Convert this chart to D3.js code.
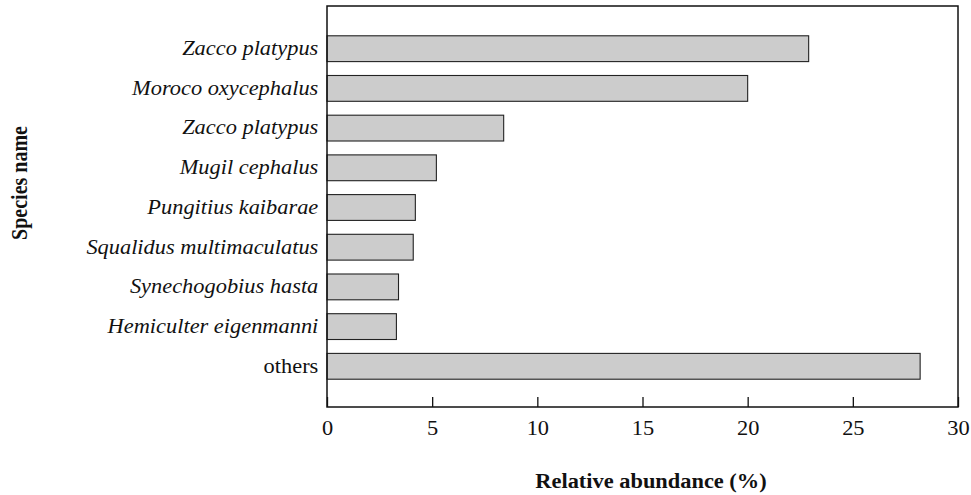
<!DOCTYPE html>
<html>
<head>
<meta charset="utf-8">
<script src="https://cdn.jsdelivr.net/npm/d3@7"></script>
<style>
  html, body { margin: 0; padding: 0; background: #fff; }
  svg { display: block; }
  svg text { font-family: 'Liberation Serif', 'Times New Roman', Times, serif !important; fill: #111; }
</style>
</head>
<body>
<div id="chart"></div>
<script>
// Species (top to bottom) and their relative abundance (%)
const species = [
  "Zacco platypus",
  "Moroco oxycephalus",
  "Zacco platypus ",
  "Mugil cephalus",
  "Pungitius kaibarae",
  "Squalidus multimaculatus",
  "Synechogobius hasta",
  "Hemiculter eigenmanni",
  "others"
];
const abundance = [22.9, 20.0, 8.4, 5.2, 4.2, 4.1, 3.4, 3.3, 28.2];
const xTicks = [0, 5, 10, 15, 20, 25, 30];

const width = 971, height = 495;
const margin = { top: 6, right: 13, bottom: 88, left: 327 };
const innerW = width - margin.left - margin.right;
const innerH = height - margin.top - margin.bottom;
const stretch = 1.12;   // horizontal widening of the lettering

const svg = d3.select("#chart").append("svg")
  .attr("width", width).attr("height", height);

const g = svg.append("g").attr("transform", `translate(${margin.left},${margin.top})`);

const x = d3.scaleLinear().domain([0, 30]).range([0, innerW]);
const y = d3.scaleBand().domain(species).range([2, innerH])
  .paddingInner(0.35).paddingOuter(0.7);

// bars
g.selectAll("rect.bar").data(species).join("rect")
  .attr("class", "bar")
  .attr("x", x(0))
  .attr("y", d => y(d))
  .attr("width", (d, i) => x(abundance[i]) - x(0))
  .attr("height", y.bandwidth())
  .attr("fill", "#cccccc")
  .attr("stroke", "#222")
  .attr("stroke-width", 1.1);

// bottom axis: inward ticks, labels below
const xAxis = g.append("g").attr("transform", `translate(0,${innerH})`)
  .call(d3.axisBottom(x).tickValues(xTicks).tickSizeInner(-10).tickSizeOuter(0).tickPadding(14));
xAxis.attr("font-family", null).attr("font-size", null);
xAxis.select(".domain").remove();
xAxis.selectAll("line").attr("stroke", "#111").attr("stroke-width", 1.3);
xAxis.selectAll("text")
  .style("font-size", "20px")
  .attr("fill", "#111")
  .attr("transform", `scale(${stretch},1)`);

// species labels
const yAxis = g.append("g")
  .call(d3.axisLeft(y).tickSize(0).tickPadding(8));
yAxis.attr("font-family", null).attr("font-size", null);
yAxis.select(".domain").remove();
yAxis.selectAll("text")
  .style("font-size", "20px")
  .attr("fill", "#111")
  .attr("x", -8.7 / stretch)
  .attr("transform", `scale(${stretch},1)`)
  .style("font-style", d => d === "others" ? "normal" : "italic");

// frame
g.append("rect")
  .attr("x", 0).attr("y", 0).attr("width", innerW).attr("height", innerH)
  .attr("fill", "none").attr("stroke", "#111").attr("stroke-width", 1.5);

// axis titles
svg.append("text")
  .attr("transform", `translate(651,488) scale(${stretch},1)`)
  .attr("text-anchor", "middle")
  .style("font-size", "20px").style("font-weight", "bold")
  .text("Relative abundance (%)");

svg.append("text")
  .attr("transform", `translate(27,183) scale(${stretch},1) rotate(-90)`)
  .attr("text-anchor", "middle")
  .style("font-size", "20px").style("font-weight", "bold")
  .text("Species name");
</script>
</body>
</html>
